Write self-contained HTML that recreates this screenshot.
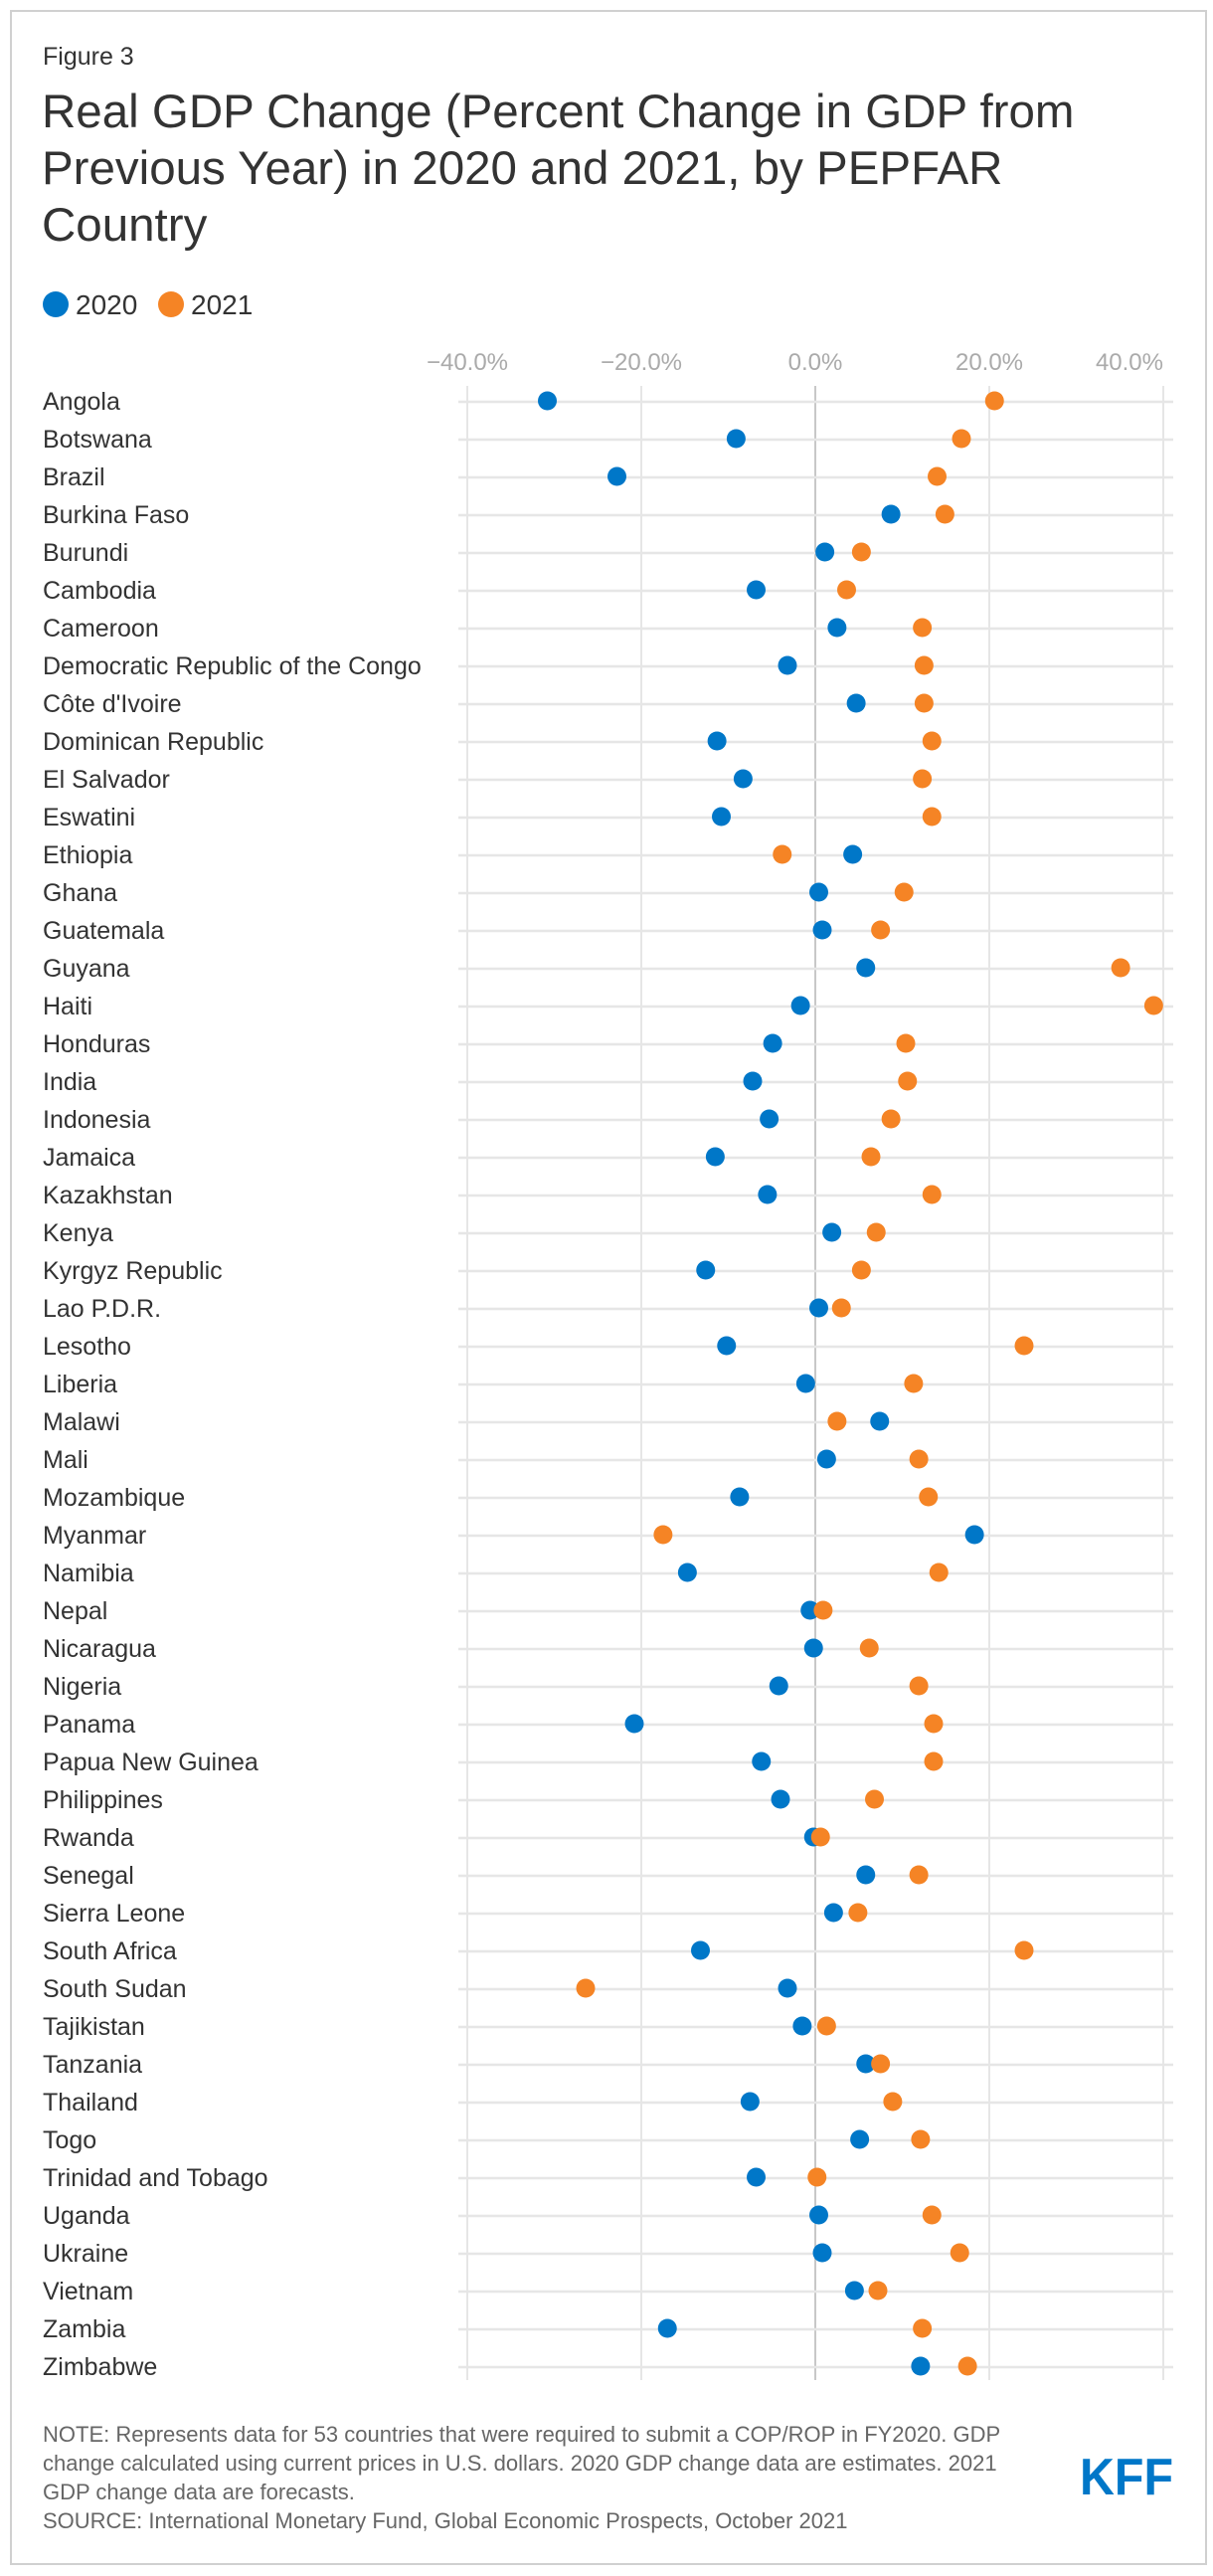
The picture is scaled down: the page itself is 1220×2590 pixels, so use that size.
<!DOCTYPE html>
<html><head><meta charset="utf-8"><style>
html,body{margin:0;padding:0;background:#fff;}
svg{display:block;font-family:"Liberation Sans",Arial,sans-serif;}
</style></head><body>
<svg id="chart" width="1220" height="2590" viewBox="0 0 1220 2590">
<rect x="11" y="11" width="1202" height="2567" fill="#fff" stroke="#d0d0d0" stroke-width="2"/>
<text x="43" y="65" font-size="25" fill="#333">Figure 3</text>
<g font-size="47.5" fill="#333">
<text x="42" y="128">Real GDP Change (Percent Change in GDP from</text>
<text x="42" y="185">Previous Year) in 2020 and 2021, by PEPFAR</text>
<text x="42" y="242">Country</text>
</g>
<g>
<circle cx="56" cy="306" r="13" fill="#0077c8"/>
<text x="76" y="316" font-size="28" fill="#333">2020</text>
<circle cx="172" cy="306" r="13" fill="#f58425"/>
<text x="192" y="316" font-size="28" fill="#333">2021</text>
</g>
<g id="grid"></g><g id="rows"></g><g id="ticks"></g><g id="dots"></g>
<g font-size="22" fill="#666">
<text x="43" y="2455">NOTE: Represents data for 53 countries that were required to submit a COP/ROP in FY2020. GDP</text>
<text x="43" y="2484">change calculated using current prices in U.S. dollars. 2020 GDP change data are estimates. 2021</text>
<text x="43" y="2513">GDP change data are forecasts.</text>
<text x="43" y="2542">SOURCE: International Monetary Fund, Global Economic Prospects, October 2021</text>
</g>
<text x="1180" y="2508" text-anchor="end" font-size="52" font-weight="bold" fill="#0077c8" textLength="94" lengthAdjust="spacingAndGlyphs">KFF</text>
</svg>
<script>
const countries=["Angola","Botswana","Brazil","Burkina Faso","Burundi","Cambodia","Cameroon","Democratic Republic of the Congo","Côte d'Ivoire","Dominican Republic","El Salvador","Eswatini","Ethiopia","Ghana","Guatemala","Guyana","Haiti","Honduras","India","Indonesia","Jamaica","Kazakhstan","Kenya","Kyrgyz Republic","Lao P.D.R.","Lesotho","Liberia","Malawi","Mali","Mozambique","Myanmar","Namibia","Nepal","Nicaragua","Nigeria","Panama","Papua New Guinea","Philippines","Rwanda","Senegal","Sierra Leone","South Africa","South Sudan","Tajikistan","Tanzania","Thailand","Togo","Trinidad and Tobago","Uganda","Ukraine","Vietnam","Zambia","Zimbabwe"];
const v2020=[-30.8,-9.1,-22.8,8.7,1.1,-6.8,2.5,-3.2,4.7,-11.3,-8.3,-10.8,4.3,0.4,0.8,5.8,-1.7,-4.9,-7.2,-5.3,-11.5,-5.5,1.9,-12.6,0.4,-10.2,-1.1,7.4,1.3,-8.7,18.3,-14.7,-0.6,-0.2,-4.2,-20.8,-6.2,-4.0,-0.2,5.8,2.1,-13.2,-3.2,-1.5,5.8,-7.5,5.1,-6.8,0.4,0.8,4.5,-17.0,12.1];
const v2021=[20.6,16.8,14.0,14.9,5.3,3.6,12.3,12.5,12.5,13.4,12.3,13.4,-3.8,10.2,7.5,35.1,38.9,10.4,10.6,8.7,6.4,13.4,7.0,5.3,3.0,24.0,11.3,2.5,11.9,13.0,-17.5,14.2,0.9,6.2,11.9,13.6,13.6,6.8,0.6,11.9,4.9,24.0,-26.4,1.3,7.5,8.9,12.1,0.2,13.4,16.6,7.2,12.3,17.5];
const ticks=[-40,-20,0,20,40];
const tickLabels=["−40.0%","−20.0%","0.0%","20.0%","40.0%"];
const NS="http://www.w3.org/2000/svg";
const x=v=>820+v*8.75;
const y=i=>403+i*38;
function mk(tag,attrs,parent){const e=document.createElementNS(NS,tag);for(const k in attrs)e.setAttribute(k,attrs[k]);document.getElementById(parent).appendChild(e);return e;}
ticks.forEach((t,i)=>{
  const g=mk("line",{x1:x(t),x2:x(t),y1:388,y2:2393,stroke:t===0?"#c8c8c8":"#e6e6e6","stroke-width":2},"grid");
  
  
  const last=i===ticks.length-1;
  const l=mk("text",{x:x(t),y:372,"text-anchor":last?"end":"middle","font-size":24,fill:"#aaa"},"ticks");
  l.textContent=tickLabels[i];
  
  
});
countries.forEach((c,i)=>{
  const r=mk("line",{x1:461,x2:1180,y1:y(i)+1,y2:y(i)+1,stroke:"#e6e6e6","stroke-width":2.5},"rows");
  
  
  const t=mk("text",{x:43,y:y(i)+9,"font-size":25,fill:"#333"},"rows");
  t.textContent=c;
  
  
});
countries.forEach((c,i)=>{
  const a=mk("circle",{cx:x(v2020[i]),cy:y(i),r:9.5,fill:"#0077c8"},"dots");
  
  
});
countries.forEach((c,i)=>{
  const b=mk("circle",{cx:x(v2021[i]),cy:y(i),r:9.5,fill:"#f58425"},"dots");
  
  
});
</script>
</body></html>
